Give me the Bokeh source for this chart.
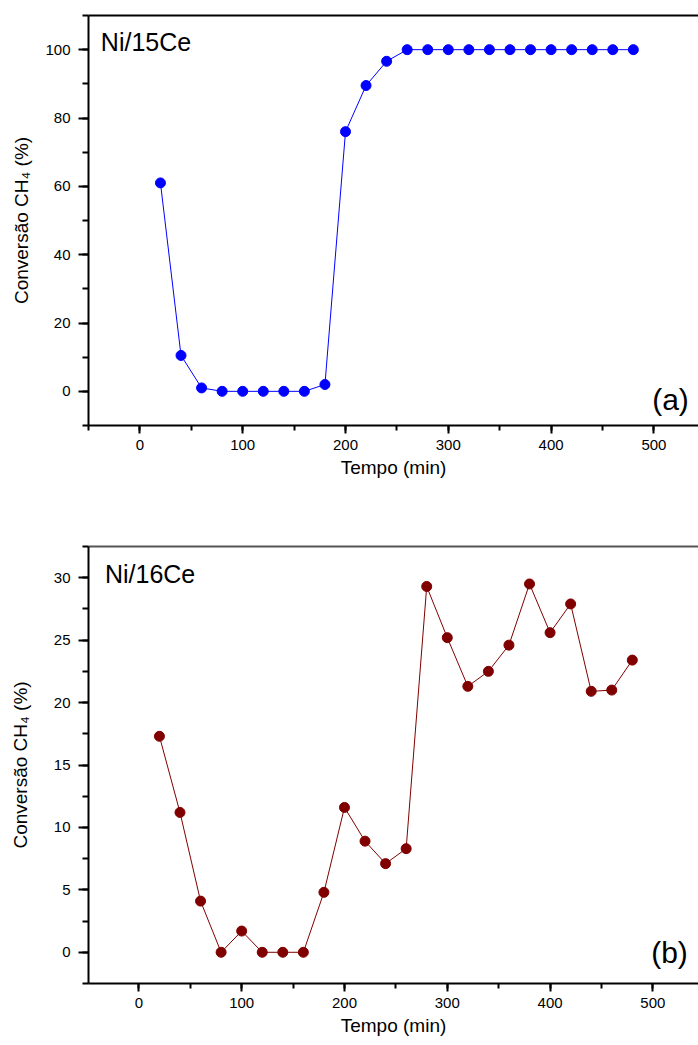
from bokeh.plotting import figure
from bokeh.layouts import column
from bokeh.models import (LinearAxis, SingleIntervalTicker, FixedTicker, Label, Range1d)
from bokeh.embed import file_html
from bokeh.resources import INLINE

# ---- data ----
tempo = [20, 40, 60, 80, 100, 120, 140, 160, 180, 200, 220, 240,
         260, 280, 300, 320, 340, 360, 380, 400, 420, 440, 460, 480]
conv_15ce = [61.0, 10.5, 1.0, 0.0, 0.0, 0.0, 0.0, 0.0, 2.0, 76.0, 89.5, 96.6,
             100, 100, 100, 100, 100, 100, 100, 100, 100, 100, 100, 100]
conv_16ce = [17.3, 11.2, 4.1, 0.0, 1.7, 0.0, 0.0, 0.0, 4.8, 11.6, 8.9, 7.1,
             8.3, 29.3, 25.2, 21.3, 22.5, 24.6, 29.5, 25.6, 27.9, 20.9, 21.0, 23.4]
x_label = "Tempo (min)"
y_label = "Conversão CH₄ (%)"

FONT = "Liberation Sans"


def make_panel(xs, ys, color, yr, y_interval, name, tag, height,
               border_top, border_bottom, name_pos, tag_pos, top_color, x_start,
               ytitle_standoff):
    p = figure(width=698, height=height, output_backend="svg", toolbar_location=None,
               x_range=Range1d(x_start, x_start + 610 / 1.028), y_range=Range1d(*yr),
               min_border_left=88, min_border_right=0,
               min_border_top=border_top, min_border_bottom=border_bottom,
               x_axis_label=x_label, y_axis_label=y_label)
    p.outline_line_color = None
    p.grid.visible = False
    p.background_fill_color = "white"
    p.border_fill_color = "white"

    p.line(xs, ys, line_color=color, line_width=1)
    p.scatter(xs, ys, size=10, fill_color=color, line_color=color, marker="circle")

    xa = p.xaxis[0]
    xa.ticker = SingleIntervalTicker(interval=100, num_minor_ticks=2)
    xa.major_tick_out = 8
    xa.major_tick_in = 0
    xa.minor_tick_out = 5
    xa.minor_tick_in = 0
    xa.major_label_standoff = 6
    xa.axis_label_standoff = 4

    ya = p.yaxis[0]
    ya.ticker = SingleIntervalTicker(interval=y_interval, num_minor_ticks=2)
    ya.major_tick_out = 10
    ya.major_tick_in = 0
    ya.minor_tick_out = 6
    ya.minor_tick_in = 0
    ya.major_label_standoff = 8
    ya.axis_label_standoff = ytitle_standoff

    for ax in (xa, ya):
        ax.axis_line_width = 2
        ax.axis_line_color = "black"
        ax.major_tick_line_width = 2
        ax.minor_tick_line_width = 2
        ax.major_tick_line_color = "black"
        ax.minor_tick_line_color = "black"
        ax.major_label_text_font = FONT
        ax.major_label_text_font_size = "15px"
        ax.major_label_text_color = "black"
        ax.axis_label_text_font = FONT
        ax.axis_label_text_font_size = "19px"
        ax.axis_label_text_font_style = "normal"
        ax.axis_label_text_color = "black"

    top = LinearAxis(ticker=FixedTicker(ticks=[]), major_label_text_font_size="0px",
                     major_tick_out=0, major_tick_in=0, minor_tick_out=0, minor_tick_in=0,
                     major_label_standoff=0, axis_line_width=2, axis_line_color=top_color)
    p.add_layout(top, "above")

    p.add_layout(Label(x=name_pos[0], y=name_pos[1], text=name, text_font=FONT,
                       text_font_size="25px", text_baseline="middle", text_align="left",
                       text_color="black"))
    p.add_layout(Label(x=tag_pos[0], y=tag_pos[1], text=tag, text_font=FONT,
                       text_font_size="30px", text_baseline="middle", text_align="right",
                       text_color="black"))
    return p


pa = make_panel(tempo, conv_15ce, "#0000FF", (-10, 110), 20, "Ni/15Ce", "(a)",
                height=508, border_top=15, border_bottom=83,
                name_pos=(-38, 102.2), tag_pos=(534, -2.4), top_color="black",
                x_start=-50, ytitle_standoff=10)
pb = make_panel(tempo, conv_16ce, "#800000", (-2.5, 32.5), 5, "Ni/16Ce", "(b)",
                height=537, border_top=38, border_bottom=62,
                name_pos=(-33, 30.3), tag_pos=(534, 0.0), top_color="#555555",
                x_start=-49, ytitle_standoff=20)

layout = column(pa, pb, spacing=0)

open("out.html", "w").write(file_html(layout, INLINE))
